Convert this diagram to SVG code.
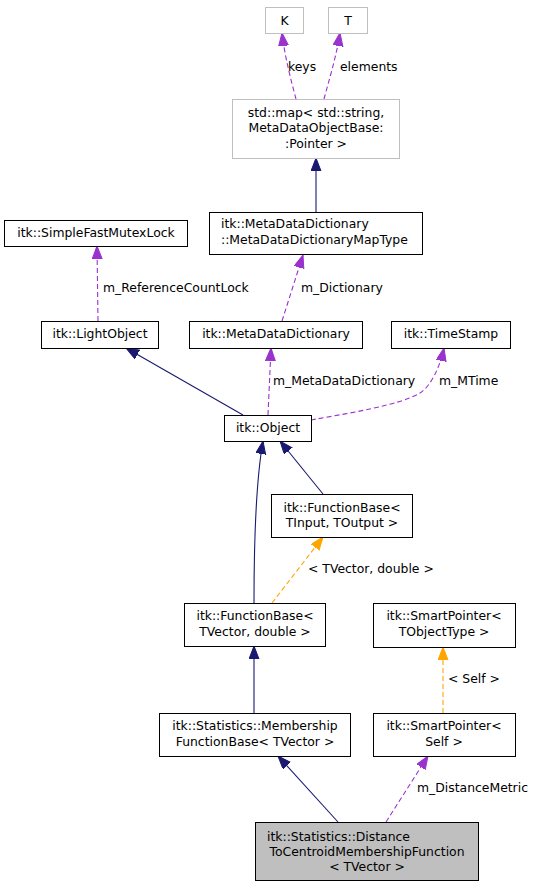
<svg xmlns="http://www.w3.org/2000/svg" width="539" height="888" viewBox="0 0 539 888">
<style>
text{font-family:"DejaVu Sans","Liberation Sans",sans-serif;font-size:12.4px;fill:#000}
.c{text-anchor:middle}
.n rect{fill:#fff;stroke:#000;stroke-width:1}
.g rect{fill:#fff;stroke:#bfbfbf;stroke-width:1}
.e path{fill:none;stroke-width:1.1}
.inh{stroke:#191970}
.use{stroke:#9a32cd;stroke-dasharray:5,3}
.tpl{stroke:#ffa500;stroke-dasharray:5,3}
</style>
<defs>
<marker id="an" markerUnits="userSpaceOnUse" markerWidth="14" markerHeight="11" refX="13" refY="5" orient="auto"><path d="M0,0 L13,5 L0,10 z" fill="#191970" stroke="#191970"/></marker>
<marker id="ap" markerUnits="userSpaceOnUse" markerWidth="14" markerHeight="11" refX="13" refY="5" orient="auto"><path d="M0,0 L13,5 L0,10 z" fill="#9a32cd" stroke="#9a32cd"/></marker>
<marker id="ao" markerUnits="userSpaceOnUse" markerWidth="14" markerHeight="11" refX="13" refY="5" orient="auto"><path d="M0,0 L13,5 L0,10 z" fill="#ffa500" stroke="#ffa500"/></marker>
</defs>

<g id="edges" class="e">
<path class="use" d="M296,99 C291,80 285,58 282,33" marker-end="url(#ap)"/>
<path class="use" d="M324,99 C329,80 336,58 340,33" marker-end="url(#ap)"/>
<path class="inh" d="M316,212 L316,158" marker-end="url(#an)"/>
<path class="use" d="M282,321 L303,255" marker-end="url(#ap)"/>
<path class="use" d="M98,321 L97,246" marker-end="url(#ap)"/>
<path class="inh" d="M243,415 L126,348" marker-end="url(#an)"/>
<path class="use" d="M268,415 L271,348" marker-end="url(#ap)"/>
<path class="use" d="M311,420 C350,413 400,405 420,393 C432,385 440,366 444,348" marker-end="url(#ap)"/>
<path class="inh" d="M254,603 C254,520 257,475 263,441" marker-end="url(#an)"/>
<path class="inh" d="M323,494 L280,441" marker-end="url(#an)"/>
<path class="tpl" d="M272,603 L323,537" marker-end="url(#ao)"/>
<path class="inh" d="M254,713 L254,646" marker-end="url(#an)"/>
<path class="tpl" d="M443,713 L443,647" marker-end="url(#ao)"/>
<path class="inh" d="M338,822 L278,756" marker-end="url(#an)"/>
<path class="use" d="M386,822 L428,756" marker-end="url(#ap)"/>
<text x="288" y="71">keys</text>
<text x="340" y="71">elements</text>
<text x="301" y="292">m_Dictionary</text>
<text x="103" y="292">m_ReferenceCountLock</text>
<text x="273" y="385">m_MetaDataDictionary</text>
<text x="439" y="385">m_MTime</text>
<text x="308" y="573">&lt; TVector, double &gt;</text>
<text x="448" y="683">&lt; Self &gt;</text>
<text x="417" y="792">m_DistanceMetric</text>
</g>

<g id="K" class="g"><rect x="265.5" y="7.5" width="38" height="26"/><text class="c" x="284.5" y="25">K</text></g>
<g id="T" class="g"><rect x="328.5" y="7.5" width="39" height="26"/><text class="c" x="348" y="25">T</text></g>
<g id="stdmap" class="g"><rect x="232.5" y="99.5" width="167" height="59"/>
<text class="c" x="316" y="117">std::map&lt; std::string,</text>
<text class="c" x="316" y="132">MetaDataObjectBase:</text>
<text class="c" x="316" y="148">:Pointer &gt;</text></g>
<g id="MapType" class="n"><rect x="209.5" y="212.5" width="213" height="42"/>
<text x="221" y="228">itk::MetaDataDictionary</text>
<text x="221" y="244">::MetaDataDictionaryMapType</text></g>
<g id="SimpleFastMutexLock" class="n"><rect x="4.5" y="220.5" width="183" height="26"/><text class="c" x="96" y="237">itk::SimpleFastMutexLock</text></g>
<g id="LightObject" class="n"><rect x="41.5" y="321.5" width="117" height="27"/><text class="c" x="100" y="338">itk::LightObject</text></g>
<g id="MetaDataDictionary" class="n"><rect x="189.5" y="321.5" width="173" height="27"/><text class="c" x="276" y="338">itk::MetaDataDictionary</text></g>
<g id="TimeStamp" class="n"><rect x="391.5" y="321.5" width="119" height="27"/><text class="c" x="451" y="338">itk::TimeStamp</text></g>
<g id="Object" class="n"><rect x="224.5" y="415.5" width="87" height="26"/><text class="c" x="268" y="432">itk::Object</text></g>
<g id="FunctionBaseTInput" class="n"><rect x="271.5" y="494.5" width="141" height="43"/>
<text class="c" x="342" y="512">itk::FunctionBase&lt;</text>
<text class="c" x="342" y="527">TInput, TOutput &gt;</text></g>
<g id="FunctionBaseTVector" class="n"><rect x="184.5" y="603.5" width="141" height="43"/>
<text class="c" x="255" y="620">itk::FunctionBase&lt;</text>
<text class="c" x="255" y="636">TVector, double &gt;</text></g>
<g id="SmartPointerTObjectType" class="n"><rect x="373.5" y="603.5" width="142" height="44"/>
<text class="c" x="444" y="620">itk::SmartPointer&lt;</text>
<text class="c" x="444" y="636">TObjectType &gt;</text></g>
<g id="MembershipFunctionBase" class="n"><rect x="159.5" y="713.5" width="191" height="43"/>
<text class="c" x="255" y="730">itk::Statistics::Membership</text>
<text class="c" x="255" y="746">FunctionBase&lt; TVector &gt;</text></g>
<g id="SmartPointerSelf" class="n"><rect x="373.5" y="713.5" width="142" height="43"/>
<text class="c" x="444" y="730">itk::SmartPointer&lt;</text>
<text class="c" x="444" y="746">Self &gt;</text></g>
<g id="DistanceToCentroid" class="n"><rect x="255.5" y="822.5" width="223" height="58" style="fill:#bfbfbf"/>
<text x="267" y="841">itk::Statistics::Distance</text>
<text class="c" x="367" y="856">ToCentroidMembershipFunction</text>
<text class="c" x="367" y="871">&lt; TVector &gt;</text></g>
</svg>
